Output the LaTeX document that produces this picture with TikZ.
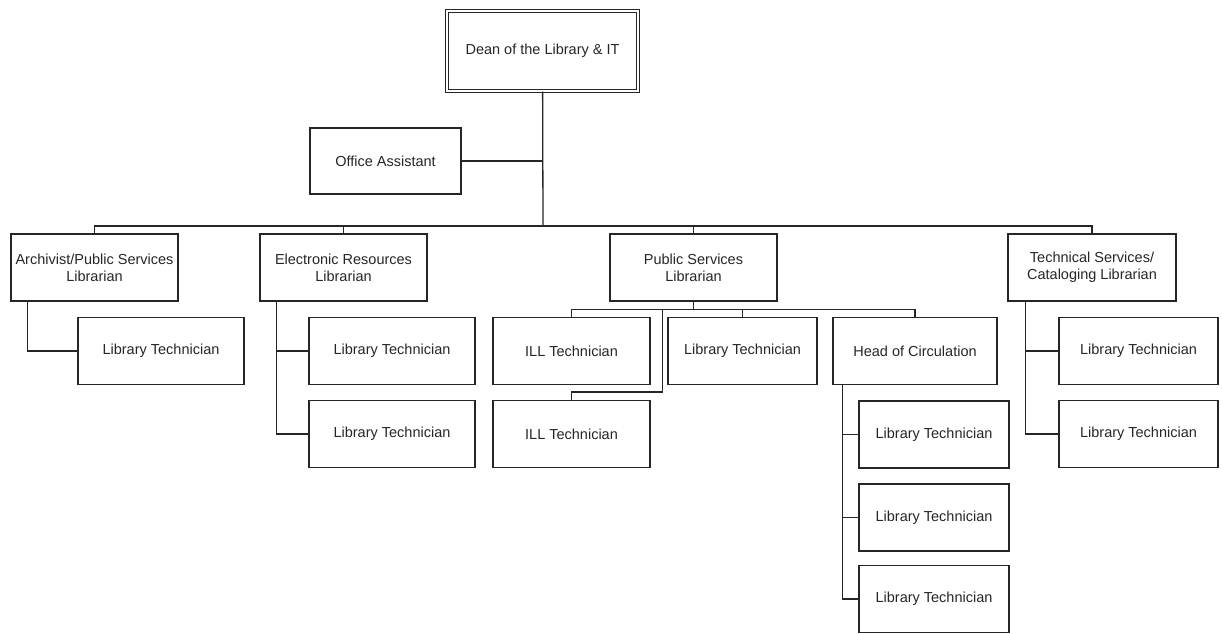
\documentclass[tikz,border=0pt]{standalone}
\usepackage{fontspec}
\setmainfont{Liberation Sans}
\begin{document}
\begin{tikzpicture}[x=1pt,y=-1pt,line width=1.3pt,draw=black!85,
	every node/.style={font=\fontsize{14.5}{17}\selectfont,text=black!85},
	box/.style={draw,align=center,minimum height=67,inner sep=2pt}]
	\useasboundingbox (0,0) rectangle (1222,633);
	\node[box,double,double distance=2pt,minimum width=191,minimum height=80] (dean) at (542.5,51) {Dean of the Library \& IT};
	\node[box,minimum width=151,minimum height=66] (office) at (385.5,161) {Office Assistant};
	\node[box,minimum width=167] (arch) at (94.5,267.5) {Archivist/Public Services\\Librarian};
	\node[box,minimum width=167] (eres) at (343.5,267.5) {Electronic Resources\\Librarian};
	\node[box,minimum width=167] (pub) at (693.5,267.5) {Public Services\\Librarian};
	\node[box,minimum width=168] (tech) at (1092,267.5) {Technical Services/\\Cataloging Librarian};
	\node[box,minimum width=166] (archtech) at (161,351) {Library Technician};
	\node[box,minimum width=166] (erestech1) at (392,351) {Library Technician};
	\node[box,minimum width=166] (erestech2) at (392,434) {Library Technician};
	\node[box,minimum width=157] (ill1) at (571.5,351) {ILL Technician};
	\node[box,minimum width=157] (ill2) at (571.5,434) {ILL Technician};
	\node[box,minimum width=149] (pubtech) at (742.5,351) {Library Technician};
	\node[box,minimum width=164] (head) at (915,351) {Head of Circulation};
	\node[box,minimum width=150] (circ1) at (934,434.5) {Library Technician};
	\node[box,minimum width=150] (circ2) at (934,517.5) {Library Technician};
	\node[box,minimum width=150] (circ3) at (934,599) {Library Technician};
	\node[box,minimum width=159] (techtech1) at (1138.5,351) {Library Technician};
	\node[box,minimum width=159] (techtech2) at (1138.5,434) {Library Technician};
	\coordinate (bus) at (543,226);
	\draw (dean) -- (bus);
	\draw (office) -- (office -| bus);
	\draw (bus) -| (arch) (bus) -| (eres) (bus) -| (pub) (bus) -| (tech);
	\coordinate (archbar) at ([xshift=17]arch.south west);
	\draw (archbar) |- (archtech);
	\coordinate (eresbar) at ([xshift=17]eres.south west);
	\draw (eresbar) |- (erestech1) (eresbar) |- (erestech2);
	\coordinate (pubbar) at ([yshift=-8]pub.south);
	\draw (pub) -- (pubbar) -| (ill1) (pubbar) -| (pubtech) (pubbar) -| (head);
	\draw ([xshift=-31]pubbar) |- ([yshift=8]ill2.north) -- (ill2);
	\coordinate (headbar) at ([xshift=10]head.south west);
	\draw (headbar) |- (circ1) (headbar) |- (circ2) (headbar) |- (circ3);
	\coordinate (techbar) at ([xshift=18]tech.south west);
	\draw (techbar) |- (techtech1) (techbar) |- (techtech2);
\end{tikzpicture}
\end{document}
